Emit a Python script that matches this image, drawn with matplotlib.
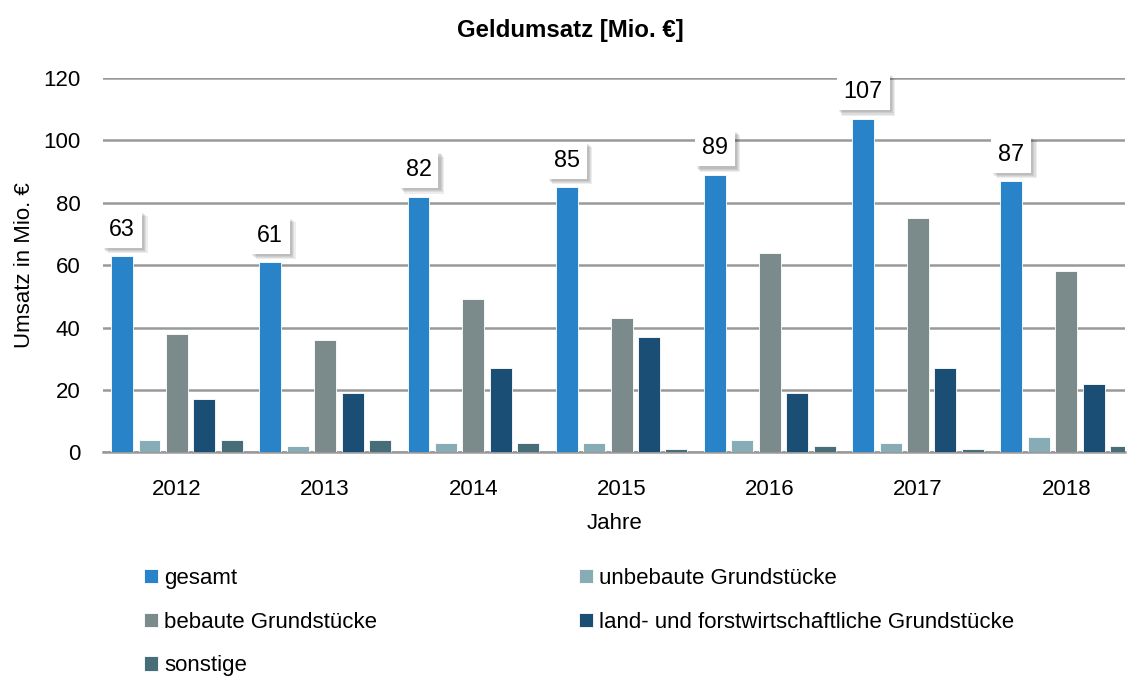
import numpy as np
import matplotlib.pyplot as plt
import matplotlib.patheffects as pe

years = ["2012", "2013", "2014", "2015", "2016", "2017", "2018"]
gesamt = [63, 61, 82, 85, 89, 107, 87]
unbebaut = [4, 2, 3, 3, 4, 3, 5]
bebaut = [38, 36, 49, 43, 64, 75, 58]
land_forst = [17, 19, 27, 37, 19, 27, 22]
sonstige = [4, 4, 3, 1, 2, 1, 2]

series = [
    ("gesamt", gesamt, "#2883c8"),
    ("unbebaute Grundstücke", unbebaut, "#87acb6"),
    ("bebaute Grundstücke", bebaut, "#7b8b8c"),
    ("land- und forstwirtschaftliche Grundstücke", land_forst, "#1b4e75"),
    ("sonstige", sonstige, "#476e78"),
]

plt.rcParams['font.family'] = ['Liberation Sans', 'DejaVu Sans']
fs = 16

fig = plt.figure(figsize=(11.3, 6.79), dpi=100)
ax = fig.add_axes([0.091, 0.334, 0.905, 0.551])

x = np.arange(len(years))
w = 0.148
step = 0.185
handles = {}
for i, (name, vals, col) in enumerate(series):
    b = ax.bar(x + (i - 2) * step, vals, w, color=col, edgecolor="white",
               linewidth=0.6, zorder=3, label=name)
    handles[name] = b

# soft drop shadow behind the value boxes
shadow = [pe.withSimplePatchShadow(offset=(o, -o), shadow_rgbFace="#000000", alpha=0.07)
          for o in (4, 3, 2.2, 1.5)]
for xi, v in zip(x, gesamt):
    ax.annotate(str(v), (xi - 2 * step, v), xytext=(0, 11), textcoords="offset points",
                ha="center", va="bottom", fontsize=fs * 1.05, zorder=5,
                bbox=dict(boxstyle="square,pad=0.3", fc="white", ec="none",
                          path_effects=shadow + [pe.Normal()]))

ax.set_ylim(0, 120)
ax.set_xlim(-0.5, 6.4)
ax.set_yticks(range(0, 121, 20))
ax.set_xticks(x)
ax.set_xticklabels(years)
ax.tick_params(axis="both", labelsize=fs, length=0)
ax.tick_params(axis="y", pad=16)
ax.tick_params(axis="x", pad=19)
ax.grid(axis="y", color="#999999", linewidth=1.8, zorder=0)
for s in ["top", "right", "left"]:
    ax.spines[s].set_visible(False)
ax.spines["bottom"].set_color("#999999")
ax.spines["bottom"].set_linewidth(1.8)

ax.set_ylabel("Umsatz in Mio. €", fontsize=fs, labelpad=6)
ax.set_xlabel("Jahre", fontsize=fs, labelpad=10)
fig.text(0.505, 0.955, "Geldumsatz [Mio. €]", ha="center", va="center",
         fontsize=17.3, fontweight="bold")

order = ["gesamt", "bebaute Grundstücke", "sonstige",
         "unbebaute Grundstücke", "land- und forstwirtschaftliche Grundstücke"]
fig.legend([handles[n] for n in order], order, ncol=2, loc="upper left",
           bbox_to_anchor=(0.1198, 0.177), frameon=False, fontsize=fs,
           handlelength=0.63, handleheight=0.63, handletextpad=0.27,
           columnspacing=9.06, labelspacing=1.03, borderaxespad=0)

fig.savefig("out.png", dpi=100)
